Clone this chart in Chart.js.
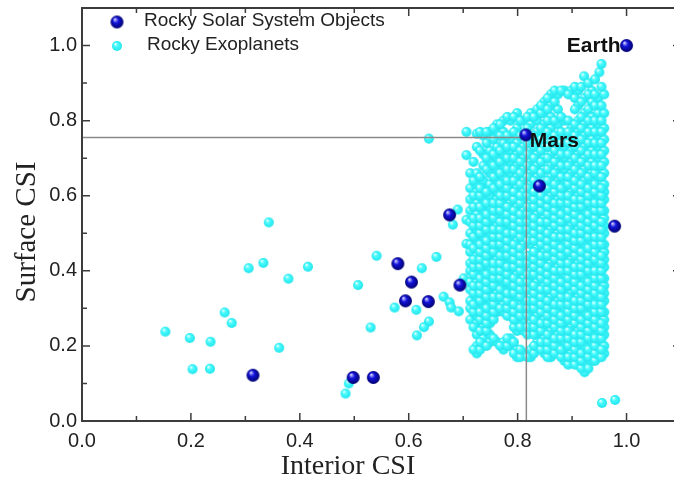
<!DOCTYPE html>
<html>
<head>
<meta charset="utf-8">
<script src="https://cdn.jsdelivr.net/npm/chart.js@4.4.0/dist/chart.umd.min.js"></script>
<style>
  html, body { margin: 0; padding: 0; background: #fff; overflow: hidden; }
  #wrap { width: 690px; height: 479px; }
</style>
</head>
<body>
<div id="wrap"><canvas id="chart" width="690" height="479"></canvas></div>
<script>
// Surface CSI vs Interior CSI — rocky solar system bodies and exoplanets.

const xTicks = [0, 0.2, 0.4, 0.6, 0.8, 1.0];
const yTicks = [0, 0.2, 0.4, 0.6, 0.8, 1.0];
const minorTicks = [0.1, 0.3, 0.5, 0.7, 0.9, 1.1];

// Rocky Solar System Objects
const solarNames = ["Earth", "Mars", "", "", "", "", "", "", "", "", "", "", ""];
const solarX = [1.000, 0.815, 0.840, 0.675, 0.978, 0.580, 0.605, 0.594, 0.636, 0.694, 0.498, 0.535, 0.314];
const solarY = [1.000, 0.762, 0.626, 0.549, 0.519, 0.419, 0.370, 0.320, 0.318, 0.362, 0.116, 0.116, 0.122];

// Mars guide lines
const guideX = [0, 0.816, 0.816];
const guideY = [0.755, 0.755, 0];

// Rocky Exoplanets outside the main cloud
const exoScattered = [
  [0.153,0.238],[0.198,0.221],[0.236,0.211],[0.203,0.138],[0.235,0.139],[0.262,0.289],
  [0.275,0.261],[0.306,0.407],[0.333,0.421],[0.379,0.379],[0.415,0.411],[0.362,0.195],
  [0.343,0.529],[0.541,0.440],[0.507,0.362],[0.651,0.437],[0.624,0.407],[0.574,0.302],
  [0.614,0.296],[0.530,0.249],[0.637,0.265],[0.628,0.250],[0.615,0.228],[0.664,0.331],
  [0.675,0.316],[0.678,0.302],[0.692,0.292],[0.490,0.100],[0.484,0.073],[0.681,0.523],
  [0.690,0.563],[0.706,0.536],[0.706,0.472],[0.701,0.380],[0.706,0.708],[0.706,0.770],
  [0.637,0.752],[0.955,0.048],[0.979,0.056],[0.922,0.918],[0.950,0.929],[0.954,0.951]
];

// Rocky Exoplanets in the dense cloud, column by column (x, then the y values read in it)
const clusterX = [0.713, 0.725, 0.737, 0.749, 0.762, 0.774, 0.787, 0.799, 0.811, 0.824, 0.836,
                  0.849, 0.861, 0.874, 0.886, 0.899, 0.911, 0.923, 0.936, 0.948, 0.959];
const clusterY = [
  [0.27,0.30,0.32,0.35,0.37,0.40,0.42,0.45,0.47,0.50,0.53,0.56,0.59,0.62,0.66],
  [0.18,0.20,0.23,0.26,0.28,0.30,0.33,0.35,0.37,0.39,0.42,0.44,0.46,0.48,0.51,0.53,0.55,0.58,0.61,0.63,0.66,0.73,0.765],
  [0.22,0.25,0.27,0.29,0.31,0.34,0.36,0.38,0.40,0.43,0.45,0.47,0.49,0.52,0.54,0.56,0.59,0.62,0.64,0.68,0.71,0.76],
  [0.21,0.23,0.26,0.28,0.30,0.32,0.35,0.37,0.39,0.41,0.44,0.46,0.48,0.50,0.53,0.55,0.57,0.60,0.63,0.66,0.69,0.72,0.77],
  [0.21,0.29,0.32,0.34,0.36,0.39,0.41,0.43,0.45,0.48,0.50,0.52,0.54,0.57,0.59,0.61,0.64,0.67,0.70,0.73,0.77,0.79],
  [0.19,0.21,0.29,0.31,0.33,0.35,0.37,0.40,0.42,0.44,0.46,0.49,0.51,0.53,0.55,0.58,0.60,0.62,0.65,0.68,0.71,0.74,0.77,0.80],
  [0.20,0.22,0.28,0.30,0.32,0.34,0.36,0.38,0.40,0.43,0.45,0.47,0.49,0.52,0.54,0.56,0.58,0.61,0.63,0.66,0.69,0.72,0.75,0.80],
  [0.17,0.19,0.24,0.26,0.28,0.30,0.33,0.35,0.37,0.39,0.42,0.44,0.46,0.48,0.51,0.53,0.55,0.57,0.60,0.62,0.65,0.68,0.71,0.74,0.78,0.82],
  [0.18,0.24,0.27,0.29,0.32,0.34,0.36,0.38,0.41,0.43,0.47,0.50,0.52,0.54,0.56,0.59,0.61,0.64,0.67,0.70,0.73,0.80],
  [0.17,0.19,0.24,0.26,0.29,0.31,0.33,0.35,0.38,0.40,0.42,0.44,0.47,0.49,0.51,0.53,0.56,0.58,0.60,0.63,0.66,0.69,0.72,0.75,0.79,0.82],
  [0.21,0.23,0.25,0.28,0.30,0.32,0.34,0.37,0.39,0.41,0.43,0.46,0.48,0.50,0.52,0.55,0.57,0.59,0.62,0.65,0.68,0.71,0.74,0.77,0.80,0.83],
  [0.18,0.20,0.22,0.25,0.27,0.29,0.31,0.34,0.36,0.38,0.40,0.43,0.45,0.47,0.49,0.52,0.54,0.56,0.58,0.61,0.64,0.67,0.70,0.73,0.76,0.79,0.82,0.85],
  [0.17,0.19,0.21,0.24,0.26,0.28,0.30,0.33,0.35,0.37,0.39,0.42,0.44,0.46,0.48,0.51,0.53,0.55,0.57,0.60,0.62,0.65,0.68,0.71,0.74,0.78,0.81,0.84,0.87],
  [0.18,0.20,0.23,0.25,0.27,0.29,0.32,0.34,0.36,0.38,0.41,0.43,0.45,0.47,0.50,0.52,0.54,0.56,0.59,0.61,0.63,0.66,0.69,0.72,0.75,0.79,0.83,0.87],
  [0.16,0.19,0.21,0.23,0.26,0.28,0.30,0.32,0.35,0.37,0.39,0.41,0.44,0.46,0.48,0.50,0.53,0.55,0.57,0.59,0.62,0.64,0.67,0.70,0.73,0.76,0.80,0.88],
  [0.16,0.18,0.20,0.22,0.25,0.27,0.29,0.31,0.34,0.36,0.38,0.40,0.43,0.45,0.47,0.49,0.52,0.54,0.56,0.58,0.61,0.63,0.66,0.69,0.72,0.75,0.78,0.87,0.88],
  [0.15,0.17,0.19,0.22,0.24,0.26,0.28,0.31,0.33,0.35,0.37,0.40,0.42,0.44,0.46,0.49,0.51,0.53,0.55,0.58,0.60,0.62,0.65,0.68,0.71,0.74,0.77,0.80,0.84,0.88],
  [0.13,0.15,0.18,0.20,0.23,0.25,0.27,0.29,0.32,0.34,0.36,0.38,0.41,0.43,0.45,0.47,0.50,0.52,0.54,0.56,0.59,0.61,0.64,0.67,0.70,0.73,0.76,0.79,0.82,0.86],
  [0.16,0.18,0.21,0.23,0.25,0.27,0.30,0.32,0.34,0.36,0.39,0.41,0.43,0.45,0.48,0.50,0.52,0.54,0.57,0.59,0.61,0.64,0.66,0.69,0.72,0.75,0.78,0.81,0.85,0.88],
  [0.17,0.19,0.21,0.24,0.26,0.28,0.30,0.33,0.35,0.37,0.39,0.42,0.44,0.46,0.48,0.51,0.53,0.55,0.57,0.60,0.62,0.65,0.67,0.70,0.73,0.76,0.79,0.82,0.86],
  [0.18,0.20,0.23,0.25,0.27,0.29,0.32,0.34,0.36,0.38,0.41,0.43,0.45,0.47,0.50,0.52,0.54,0.56,0.59,0.61,0.63,0.66,0.69,0.72,0.75,0.78,0.82,0.87]
];

// the in-between columns of the same cloud
const clusterX2 = [0.719, 0.731, 0.743, 0.756, 0.768, 0.781, 0.793, 0.805, 0.818, 0.830,
                   0.843, 0.855, 0.868, 0.880, 0.893, 0.905, 0.917, 0.930, 0.942, 0.954];
const clusterY2 = [
  [0.19,0.25,0.29,0.31,0.34,0.36,0.39,0.41,0.43,0.46,0.49,0.52,0.54,0.57,0.60,0.64,0.69],
  [0.19,0.21,0.24,0.27,0.29,0.32,0.34,0.36,0.38,0.41,0.43,0.45,0.47,0.50,0.52,0.54,0.57,0.60,0.62,0.65,0.72,0.77],
  [0.20,0.24,0.26,0.28,0.30,0.33,0.35,0.37,0.39,0.42,0.44,0.46,0.48,0.51,0.53,0.55,0.58,0.61,0.67,0.70,0.74,0.77],
  [0.22,0.27,0.29,0.31,0.33,0.36,0.38,0.40,0.42,0.45,0.47,0.49,0.51,0.54,0.56,0.58,0.62,0.65,0.68,0.71,0.75,0.78],
  [0.20,0.30,0.33,0.35,0.38,0.40,0.42,0.44,0.47,0.49,0.51,0.53,0.56,0.58,0.60,0.63,0.66,0.69,0.72,0.76,0.79],
  [0.20,0.22,0.28,0.30,0.32,0.34,0.37,0.39,0.41,0.44,0.46,0.48,0.50,0.53,0.55,0.57,0.60,0.62,0.64,0.67,0.70,0.73,0.76,0.81],
  [0.18,0.21,0.25,0.27,0.29,0.31,0.34,0.36,0.38,0.41,0.43,0.45,0.47,0.50,0.52,0.54,0.56,0.59,0.61,0.64,0.67,0.70,0.73,0.77,0.81],
  [0.17,0.19,0.25,0.28,0.30,0.33,0.35,0.37,0.40,0.42,0.44,0.46,0.49,0.51,0.53,0.55,0.58,0.60,0.63,0.66,0.69,0.72,0.76,0.80],
  [0.17,0.23,0.25,0.28,0.30,0.32,0.35,0.37,0.39,0.42,0.44,0.48,0.51,0.53,0.55,0.57,0.60,0.62,0.65,0.68,0.71,0.74,0.78,0.81],
  [0.18,0.20,0.23,0.25,0.27,0.30,0.32,0.34,0.36,0.39,0.41,0.43,0.45,0.48,0.50,0.52,0.54,0.57,0.59,0.61,0.64,0.67,0.70,0.73,0.76,0.81],
  [0.19,0.21,0.24,0.26,0.29,0.31,0.33,0.35,0.38,0.40,0.42,0.44,0.47,0.49,0.51,0.53,0.56,0.58,0.60,0.63,0.66,0.69,0.72,0.75,0.78,0.82,0.84],
  [0.17,0.19,0.21,0.23,0.26,0.28,0.30,0.32,0.35,0.37,0.39,0.41,0.44,0.46,0.48,0.50,0.53,0.55,0.57,0.59,0.62,0.64,0.67,0.70,0.73,0.77,0.80,0.83,0.86],
  [0.18,0.20,0.22,0.25,0.27,0.29,0.31,0.34,0.36,0.38,0.40,0.43,0.45,0.47,0.49,0.52,0.54,0.56,0.58,0.61,0.63,0.66,0.69,0.72,0.76,0.80,0.85,0.88],
  [0.17,0.19,0.22,0.24,0.26,0.28,0.31,0.33,0.35,0.37,0.40,0.42,0.44,0.46,0.49,0.51,0.53,0.55,0.58,0.60,0.62,0.65,0.68,0.71,0.74,0.77,0.81,0.88],
  [0.15,0.17,0.20,0.22,0.24,0.27,0.29,0.31,0.33,0.36,0.38,0.40,0.42,0.45,0.47,0.49,0.51,0.54,0.56,0.58,0.60,0.63,0.65,0.68,0.71,0.74,0.77,0.80,0.87],
  [0.15,0.17,0.19,0.21,0.23,0.26,0.28,0.30,0.32,0.35,0.37,0.39,0.41,0.44,0.46,0.48,0.50,0.53,0.55,0.57,0.59,0.62,0.64,0.67,0.70,0.73,0.76,0.79,0.83,0.86,0.89],
  [0.14,0.16,0.18,0.21,0.23,0.25,0.27,0.30,0.32,0.34,0.36,0.39,0.41,0.43,0.45,0.48,0.50,0.52,0.54,0.57,0.59,0.61,0.63,0.66,0.69,0.72,0.75,0.78,0.81,0.85,0.89],
  [0.14,0.17,0.19,0.22,0.24,0.26,0.28,0.31,0.33,0.35,0.37,0.40,0.42,0.44,0.46,0.49,0.51,0.53,0.55,0.58,0.60,0.62,0.65,0.68,0.71,0.74,0.77,0.80,0.83,0.87,0.90],
  [0.16,0.18,0.20,0.22,0.25,0.27,0.29,0.31,0.34,0.36,0.38,0.40,0.43,0.45,0.47,0.49,0.52,0.54,0.56,0.58,0.61,0.63,0.66,0.68,0.71,0.74,0.77,0.80,0.84,0.87,0.91],
  [0.17,0.19,0.22,0.24,0.26,0.29,0.31,0.33,0.35,0.38,0.40,0.42,0.44,0.47,0.49,0.51,0.53,0.56,0.58,0.60,0.62,0.65,0.68,0.71,0.74,0.77,0.80,0.84,0.89]
];

// --- shaded ball markers ---
function sphere(r, light, mid, dark) {
  const c = document.createElement("canvas");
  const s = Math.ceil(r * 2) + 2;
  c.width = c.height = s;
  const g = c.getContext("2d");
  const cx = s / 2, cy = s / 2;
  const grad = g.createRadialGradient(cx - r * 0.35, cy - r * 0.45, r * 0.05, cx, cy, r);
  grad.addColorStop(0, light);
  grad.addColorStop(0.4, mid);
  grad.addColorStop(1, dark);
  g.fillStyle = grad;
  g.beginPath();
  g.arc(cx, cy, r, 0, Math.PI * 2);
  g.fill();
  return c;
}
const blueBall = sphere(6.5, "#d8d8ff", "#1414dc", "#00006e");
const cyanBall = sphere(5, "#f0ffff", "#45fbfd", "#22e4ec");

const solarData = solarX.map((x, i) => ({ x, y: solarY[i] }));
const guideData = guideX.map((x, i) => ({ x, y: guideY[i] }));
const exoData = exoScattered.map(([x, y]) => ({ x, y }));
clusterX.forEach((x, i) => clusterY[i].forEach((y) => exoData.push({ x, y })));
clusterX2.forEach((x, i) => clusterY2[i].forEach((y) => exoData.push({ x, y })));

const SANS = "'Liberation Sans', Arial, sans-serif";
const SERIF = "'Liberation Serif', 'Times New Roman', serif";

// frame, inward ticks, labels, legend, axis titles
const decor = {
  id: "decor",
  afterDatasetsDraw(chart) {
    const { ctx, chartArea: a, scales } = chart;
    const xs = scales.x, ys = scales.y;
    ctx.save();

    // point names
    ctx.fillStyle = "#111";
    ctx.font = "bold 21px " + SANS;
    ctx.textBaseline = "alphabetic";
    solarNames.forEach((name, i) => {
      if (!name) return;
      const px = xs.getPixelForValue(solarX[i]);
      const py = ys.getPixelForValue(solarY[i]);
      if (name === "Earth") {
        ctx.textAlign = "right";
        ctx.fillText(name, px - 6, py + 6);
      } else {
        ctx.textAlign = "left";
        ctx.fillText(name, px + 4, py + 12);
      }
    });

    // frame
    ctx.strokeStyle = "#3c3c3c";
    ctx.lineWidth = 2;
    ctx.strokeRect(a.left, a.top, a.right - a.left, a.bottom - a.top);

    // inward ticks on all four sides
    ctx.lineWidth = 1.5;
    ctx.beginPath();
    const tick = (vals, len) => {
      vals.forEach((v) => {
        const px = xs.getPixelForValue(v);
        ctx.moveTo(px, a.bottom); ctx.lineTo(px, a.bottom - len);
        ctx.moveTo(px, a.top); ctx.lineTo(px, a.top + len);
        const py = ys.getPixelForValue(v);
        ctx.moveTo(a.left, py); ctx.lineTo(a.left + len, py);
        ctx.moveTo(a.right, py); ctx.lineTo(a.right - len, py);
      });
    };
    tick(xTicks, 8);
    tick(minorTicks, 5);
    ctx.stroke();

    // legend
    ctx.fillStyle = "#222";
    ctx.font = "19px " + SANS;
    ctx.textAlign = "left";
    ctx.textBaseline = "middle";
    ctx.drawImage(blueBall, 117 - blueBall.width / 2, 22 - blueBall.height / 2);
    ctx.fillText("Rocky Solar System Objects", 144, 21);
    ctx.drawImage(cyanBall, 117 - cyanBall.width / 2, 46 - cyanBall.height / 2);
    ctx.fillText("Rocky Exoplanets", 147, 45);

    // axis titles
    ctx.font = "28px " + SERIF;
    ctx.textAlign = "center";
    ctx.textBaseline = "alphabetic";
    ctx.fillText("Interior CSI", 348, 474);
    ctx.translate(35, 232);
    ctx.rotate(-Math.PI / 2);
    ctx.font = "29px " + SERIF;
    ctx.fillText("Surface CSI", 0, 0);

    ctx.restore();
  },
};

const tickFont = { family: SANS, size: 20 };

new Chart(document.getElementById("chart"), {
  type: "scatter",
  data: {
    datasets: [
      {
        label: "Rocky Solar System Objects",
        data: solarData,
        pointStyle: blueBall,
        pointRadius: 7,
      },
      {
        label: "Mars reference",
        data: guideData,
        showLine: true,
        borderColor: "#8a8a8a",
        borderWidth: 1.5,
        pointRadius: 0,
      },
      {
        label: "Rocky Exoplanets",
        data: exoData,
        pointStyle: cyanBall,
        pointRadius: 5,
      },
    ],
  },
  options: {
    responsive: false,
    animation: false,
    layout: { padding: { top: 6, right: 9, left: 0, bottom: 0 } },
    plugins: { legend: { display: false }, tooltip: { enabled: false } },
    scales: {
      x: {
        type: "linear",
        min: 0,
        max: 1.1,
        afterBuildTicks: (s) => { s.ticks = xTicks.map((v) => ({ value: v })); },
        afterFit: (s) => {
          s.height = 58;
          s.paddingLeft = s.paddingRight = 0;
        },
        grid: { display: false, drawTicks: false },
        border: { display: false },
        ticks: {
          padding: 8,
          color: "#222",
          font: tickFont,
          maxRotation: 0,
          autoSkip: false,
          callback: (v) => Number(v).toFixed(1),
        },
      },
      y: {
        type: "linear",
        min: 0,
        max: 1.1,
        afterBuildTicks: (s) => { s.ticks = yTicks.map((v) => ({ value: v })); },
        afterFit: (s) => {
          s.width = 82;
          s.paddingTop = s.paddingBottom = 0;
        },
        grid: { display: false, drawTicks: false },
        border: { display: false },
        ticks: {
          padding: 5,
          color: "#222",
          font: tickFont,
          autoSkip: false,
          callback: (v) => Number(v).toFixed(1),
        },
      },
    },
  },
  plugins: [decor],
});
</script>
</body>
</html>
